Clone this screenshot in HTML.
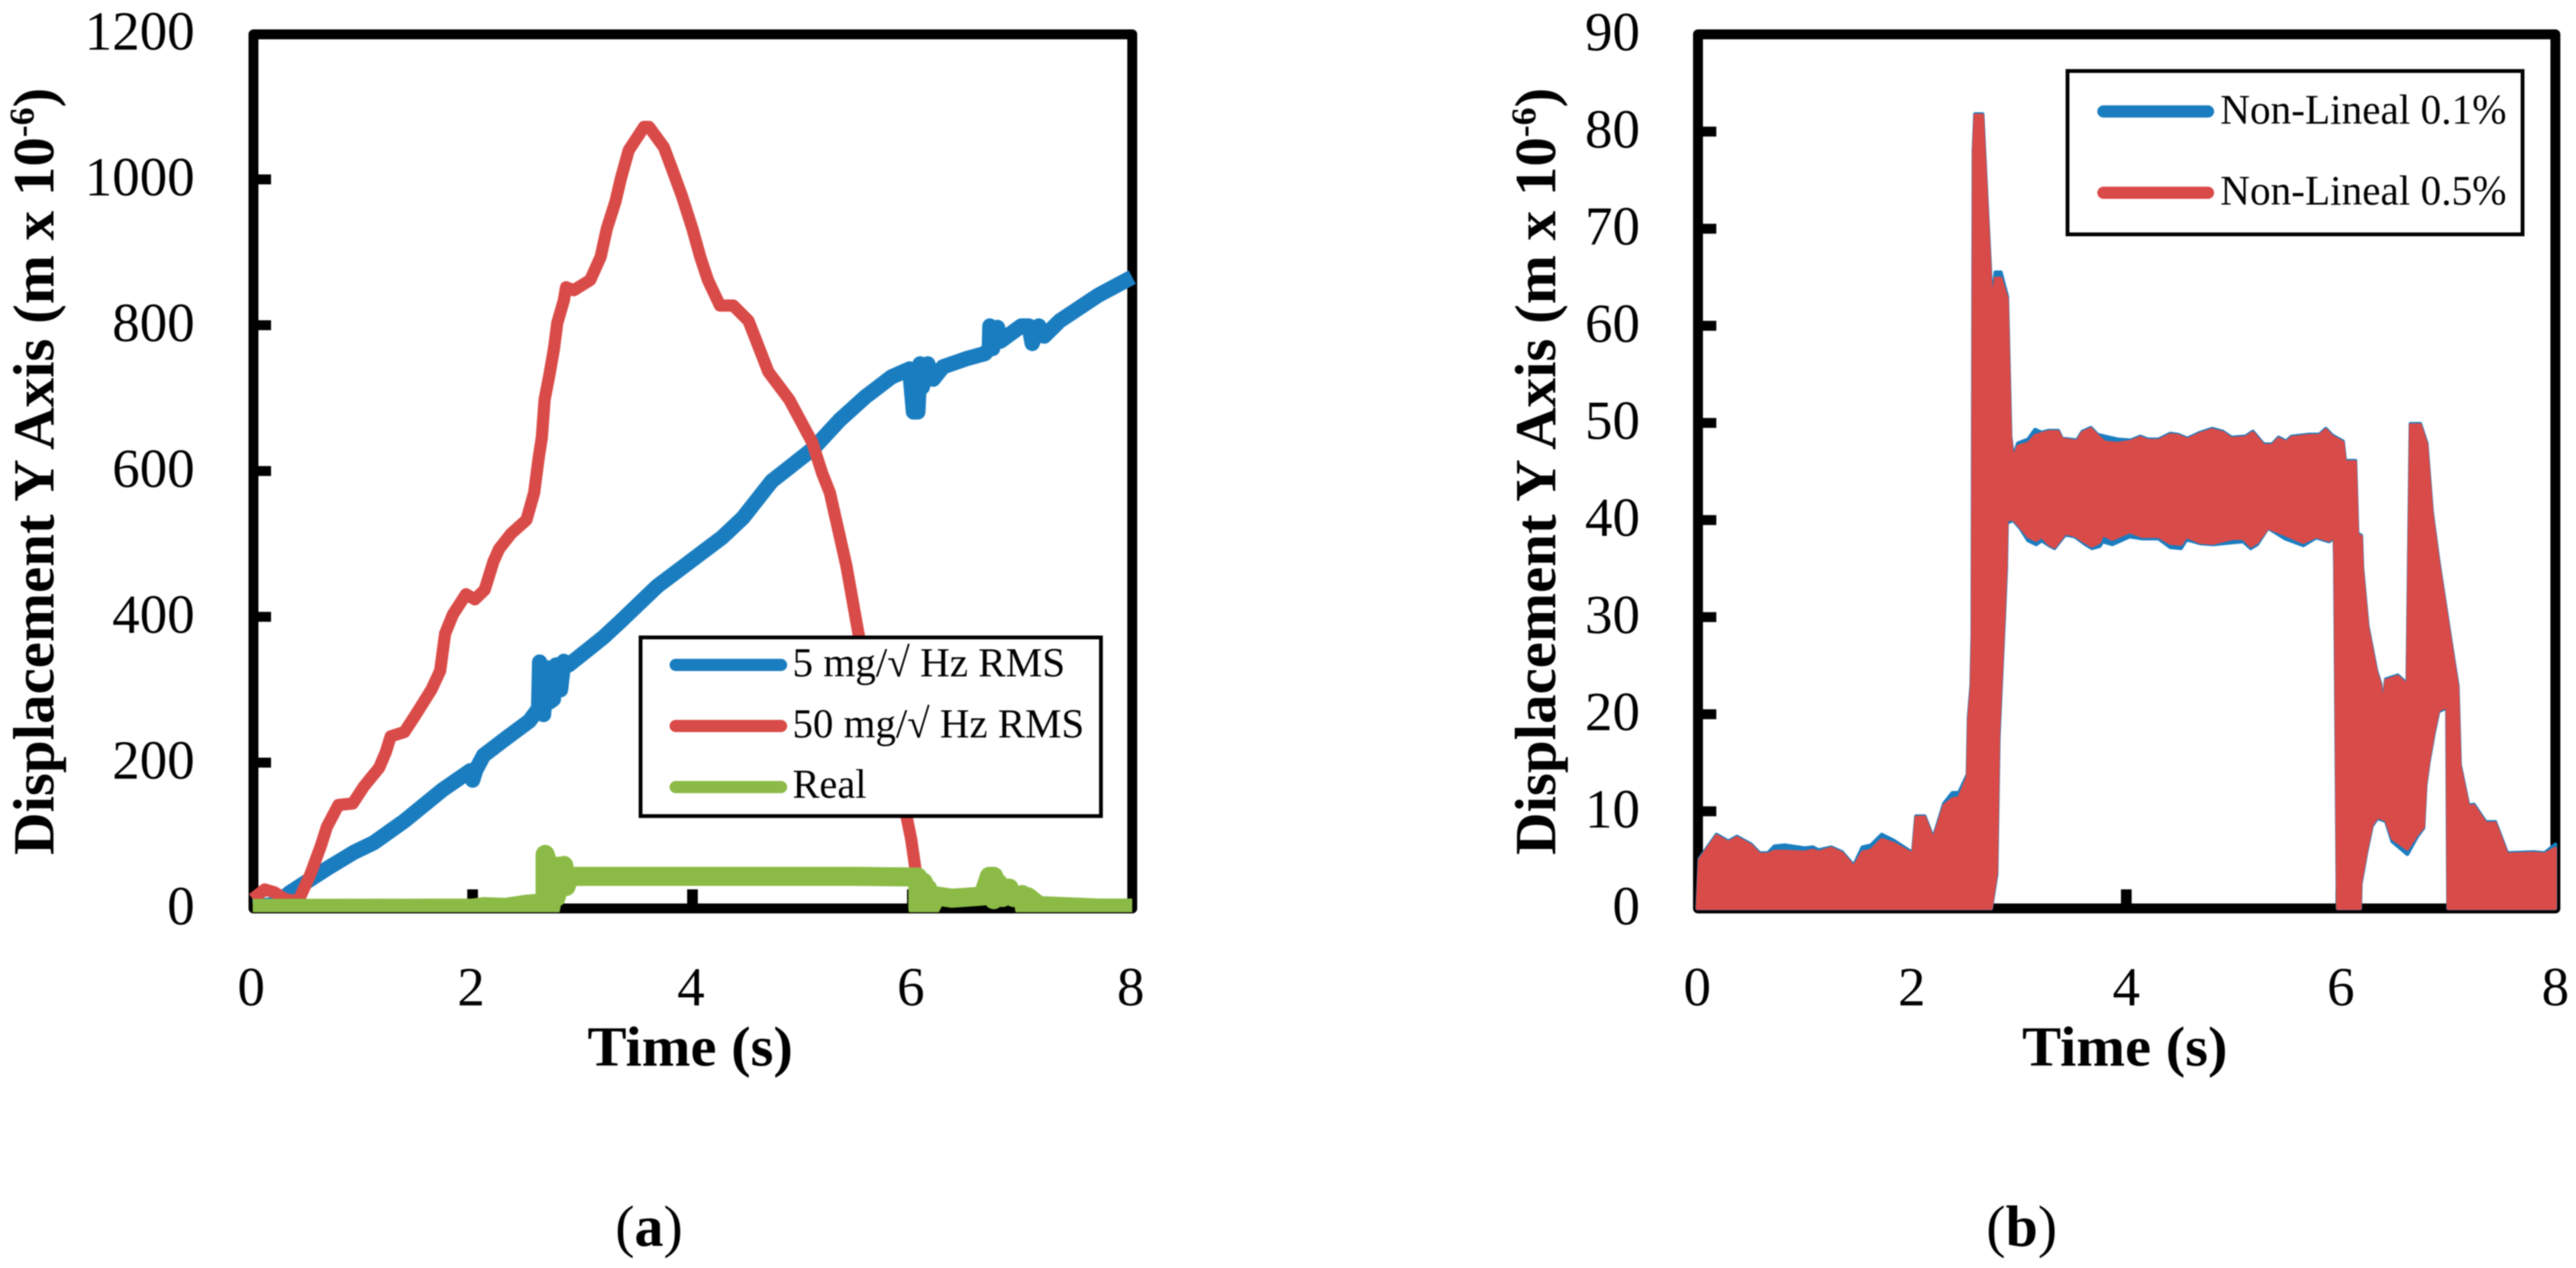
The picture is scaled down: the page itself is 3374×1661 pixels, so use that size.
<!DOCTYPE html>
<html lang="en">
<head>
<meta charset="utf-8">
<title>Displacement Y Axis charts</title>
<style>
html,body{margin:0;padding:0;background:#fff;}
svg{display:block;filter:blur(0.7px);}
text{font-family:"Liberation Serif",serif;fill:#000;}
</style>
</head>
<body>
<svg id="figure" xmlns="http://www.w3.org/2000/svg" width="3374" height="1661" viewBox="0 0 3374 1661">
  <defs>
    <clipPath id="clip-a"><rect x="326" y="38" width="1163" height="1157"/></clipPath>
    <clipPath id="clip-b"><rect x="2217" y="38" width="1136" height="1157"/></clipPath>
  </defs>
  <rect width="3374" height="1661" fill="#fff"/>

  <g id="panel-a">
    <rect x="332" y="45" width="1151" height="1145" fill="none" stroke="#000" stroke-width="13" stroke-linejoin="round"/>
    <g id="ticks-a"></g>
    <g id="series-a" clip-path="url(#clip-a)"></g>
    <text transform="translate(70,617.5) rotate(-90)" text-anchor="middle" font-size="76" font-weight="700" textLength="1005" lengthAdjust="spacingAndGlyphs">Displacement Y Axis (m x 10<tspan dy="-26" font-size="46">-6</tspan><tspan dy="26">)</tspan></text>
    <text x="904" y="1396" text-anchor="middle" font-size="74" font-weight="700" textLength="269" lengthAdjust="spacingAndGlyphs">Time (s)</text>
    <g>
      <rect x="839" y="835" width="603" height="234" fill="#fff" stroke="#000" stroke-width="5"/>
      <line x1="885" y1="871" x2="1023" y2="871" stroke="#1a7dc0" stroke-width="16" stroke-linecap="round"/>
      <text x="1038" y="886" font-size="54" textLength="357" lengthAdjust="spacingAndGlyphs">5 mg/√ Hz RMS</text>
      <line x1="885" y1="951" x2="1023" y2="951" stroke="#d94b48" stroke-width="16" stroke-linecap="round"/>
      <text x="1038" y="966" font-size="54" textLength="382" lengthAdjust="spacingAndGlyphs">50 mg/√ Hz RMS</text>
      <line x1="885" y1="1031" x2="1023" y2="1031" stroke="#8bbb46" stroke-width="16" stroke-linecap="round"/>
      <text x="1038" y="1045" font-size="54" textLength="97" lengthAdjust="spacingAndGlyphs">Real</text>
    </g>
    <text x="850" y="1632" text-anchor="middle" font-size="76">(<tspan font-weight="700">a</tspan>)</text>
  </g>

  <g id="panel-b">
    <rect x="2224" y="45" width="1123" height="1145" fill="none" stroke="#000" stroke-width="13" stroke-linejoin="round"/>
    <g id="ticks-b"></g>
    <g id="series-b" clip-path="url(#clip-b)"></g>
    <text transform="translate(2037,617.5) rotate(-90)" text-anchor="middle" font-size="76" font-weight="700" textLength="1005" lengthAdjust="spacingAndGlyphs">Displacement Y Axis (m x 10<tspan dy="-26" font-size="46">-6</tspan><tspan dy="26">)</tspan></text>
    <text x="2783" y="1396" text-anchor="middle" font-size="74" font-weight="700" textLength="269" lengthAdjust="spacingAndGlyphs">Time (s)</text>
    <g>
      <rect x="2708" y="93" width="596" height="214" fill="#fff" stroke="#000" stroke-width="5"/>
      <line x1="2755" y1="146" x2="2892" y2="146" stroke="#1a7dc0" stroke-width="16" stroke-linecap="round"/>
      <text x="2908" y="162" font-size="55" textLength="375" lengthAdjust="spacingAndGlyphs">Non-Lineal 0.1%</text>
      <line x1="2755" y1="252.500" x2="2892" y2="252.500" stroke="#d94b48" stroke-width="16" stroke-linecap="round"/>
      <text x="2908" y="268" font-size="55" textLength="375" lengthAdjust="spacingAndGlyphs">Non-Lineal 0.5%</text>
    </g>
    <text x="2648" y="1632" text-anchor="middle" font-size="76">(<tspan font-weight="700">b</tspan>)</text>
  </g>
</svg>
<script>
// ---- tick labels ----
const xTickValues = [0, 2, 4, 6, 8];
const aYTickValues = [0, 200, 400, 600, 800, 1000, 1200];
const bYTickValues = [0, 10, 20, 30, 40, 50, 60, 70, 80, 90];

// ---- panel (a) series ----
const blueTime = [0, 0.2, 0.34, 0.69, 0.92, 1.1, 1.38, 1.73, 1.98, 2.0, 2.03, 2.1, 2.31, 2.515, 2.6, 2.61, 2.645, 2.68, 2.7, 2.735, 2.76, 2.8, 2.83, 2.875, 3.19, 3.34, 3.68, 4.27, 4.46, 4.72, 5.1, 5.34, 5.575, 5.81, 5.975, 6.01, 6.05, 6.07, 6.09, 6.14, 6.19, 6.28, 6.49, 6.66, 6.7, 6.705, 6.73, 6.775, 6.8, 6.99, 7.06, 7.09, 7.15, 7.2, 7.34, 7.69, 8];
const blueValues = [3, 5, 22, 56, 77, 90, 120, 163, 189, 176, 190, 210, 234, 257, 274, 338, 266, 330, 283, 287, 334, 300, 339, 334, 372, 393, 442, 509, 536, 586, 631, 670, 702, 729, 740, 681, 681, 747, 715, 747, 726, 743, 754, 761, 768, 799, 768, 797, 778, 799, 799, 775, 799, 785, 806, 841, 866];
const redTime = [0, 0.11, 0.2, 0.29, 0.35, 0.42, 0.525, 0.62, 0.675, 0.78, 0.91, 1.01, 1.15, 1.21, 1.255, 1.38, 1.475, 1.625, 1.705, 1.75, 1.82, 1.94, 2.02, 2.11, 2.19, 2.24, 2.35, 2.49, 2.56, 2.6, 2.63, 2.655, 2.7, 2.74, 2.77, 2.83, 2.85, 2.92, 3.07, 3.165, 3.22, 3.3, 3.35, 3.42, 3.56, 3.605, 3.74, 3.81, 3.905, 4.0, 4.07, 4.14, 4.25, 4.37, 4.51, 4.6, 4.69, 4.88, 4.99, 5.09, 5.18, 5.25, 5.4, 5.51, 5.7, 5.95, 5.99, 6.03, 6.11, 6.21];
const redValues = [13, 26, 22, 13, 11, 12, 47, 86, 112, 142, 144, 167, 193, 214, 236, 242, 264, 300, 326, 377, 403, 431, 424, 437, 476, 493, 514, 533, 570, 617, 646, 698, 733, 768, 803, 834, 852, 848, 862, 894, 932, 970, 1002, 1040, 1072, 1072, 1044, 1016, 977, 932, 894, 862, 827, 827, 806, 771, 736, 698, 667, 639, 597, 570, 470, 377, 250, 124, 94, 52, 30, 2];
const greenTime = [0, 2, 2.1, 2.3, 2.5, 2.59, 2.66, 2.66, 2.7, 2.68, 2.74, 2.71, 2.78, 2.76, 2.83, 2.85, 2.88, 3.5, 4.5, 5.5, 6.05, 6.05, 6.1, 6.1, 6.14, 6.16, 6.22, 6.27, 6.36, 6.64, 6.7, 6.74, 6.74, 6.78, 6.82, 6.88, 6.92, 7.0, 7.02, 7.05, 7.15, 7.7, 8];
const greenValues = [0, 0.5, 2.5, 1.5, 6, 7, 7, 74, 55, 0, 55, 0, 58, 15, 59, 30, 44, 44, 44, 44, 43, 0, 36, 0, 27, 0, 17, 16, 14, 17, 44, 44, 12, 35, 15, 28, 15, 19, 0, 16, 4, 0.5, 0.5];

// ---- panel (b) bands ----
const bandUpperTime = [0, 0.02, 0.18, 0.29, 0.37, 0.5, 0.58, 0.66, 0.72, 0.82, 1, 1.08, 1.13, 1.25, 1.35, 1.46, 1.54, 1.62, 1.72, 1.83, 2.01, 2.04, 2.12, 2.2, 2.3, 2.38, 2.44, 2.52, 2.53, 2.555, 2.565, 2.576, 2.59, 2.66, 2.7, 2.74, 2.755, 2.78, 2.83, 2.89, 2.92, 2.945, 2.99, 3.085, 3.15, 3.21, 3.276, 3.365, 3.4, 3.54, 3.59, 3.67, 3.73, 3.8, 3.92, 4.04, 4.13, 4.2, 4.3, 4.41, 4.48, 4.57, 4.69, 4.8, 4.9, 4.98, 5.11, 5.18, 5.28, 5.36, 5.42, 5.49, 5.54, 5.7, 5.8, 5.86, 5.92, 6.02, 6.04, 6.07, 6.135, 6.155, 6.19, 6.2, 6.25, 6.33, 6.37, 6.385, 6.42, 6.53, 6.62, 6.65, 6.74, 6.8, 6.85, 6.91, 6.99, 7.05, 7.09, 7.11, 7.19, 7.24, 7.35, 7.44, 7.55, 7.8, 7.9, 8];
const upper01 = [0, 5.1, 7.6, 6.9, 7.4, 6.6, 5.7, 5.7, 6.4, 6.5, 6.2, 6.3, 6, 6.3, 5.8, 4.4, 6.3, 6.5, 7.6, 7, 5.7, 9.5, 9.5, 7.2, 10.8, 11.9, 11.9, 13.8, 19.6, 23, 28.2, 78, 81.8, 81.8, 72.8, 63.7, 63, 65.5, 65.5, 63, 48.6, 46.4, 47.9, 48.3, 49.3, 49, 49.2, 49.2, 48.4, 48.2, 49.1, 49.5, 48.8, 48.6, 48.3, 48.2, 48.6, 48.3, 48.3, 48.9, 48.8, 48.4, 49, 49.4, 49.1, 48.5, 48.6, 49.1, 47.8, 47.8, 48.5, 48.1, 48.6, 48.8, 48.8, 49.4, 48.7, 48.1, 46.1, 46.1, 46.1, 38.6, 38.4, 35.1, 29.1, 24.5, 23.1, 20.4, 23.6, 24, 23.1, 49.9, 49.9, 47.9, 40.8, 35.8, 30, 25.7, 22.9, 14.8, 10.6, 10.7, 8.9, 8.9, 5.7, 5.8, 5.7, 6.6];
const upper05 = [0, 5, 7.5, 6.8, 7.3, 6.5, 5.6, 5.6, 5.9, 5.9, 5.8, 6, 5.8, 6.2, 5.7, 4.3, 5.8, 6, 7.1, 6.7, 5.6, 9.4, 9.4, 7.1, 10.6, 11.3, 11.4, 13.6, 19.4, 22.8, 28, 78, 81.7, 81.7, 72.7, 63.5, 62.8, 64.9, 64.9, 62.8, 48.5, 46.25, 47.6, 47.9, 48.7, 48.9, 49.1, 49.1, 48.35, 48.1, 49, 49.4, 48.7, 48, 47.9, 48.1, 48.5, 48.2, 48.2, 48.8, 48.7, 48.3, 48.9, 49.3, 49, 48.4, 48.5, 49, 47.7, 47.7, 48.4, 48, 48.5, 48.7, 48.7, 49.3, 48.6, 48, 46, 46, 46, 38.5, 38.3, 35, 29, 24.4, 23, 20.3, 23.5, 23.9, 23, 49.8, 49.8, 47.8, 40.7, 35.7, 29.9, 25.6, 22.8, 14.7, 10.5, 10.6, 8.8, 8.8, 5.6, 5.7, 5.6, 6.2];
const bandLowerTime = [0, 2.74, 2.79, 2.81, 2.83, 2.86, 2.88, 2.887, 2.945, 3.01, 3.085, 3.16, 3.21, 3.28, 3.33, 3.38, 3.43, 3.52, 3.62, 3.68, 3.75, 3.78, 3.87, 4.03, 4.15, 4.3, 4.41, 4.51, 4.56, 4.69, 4.81, 4.99, 5.09, 5.16, 5.22, 5.32, 5.48, 5.65, 5.77, 5.89, 5.94, 5.945, 5.97, 6.18, 6.185, 6.24, 6.29, 6.34, 6.42, 6.48, 6.62, 6.71, 6.77, 6.79, 6.82, 6.87, 6.91, 6.99, 7.0, 8];
const lower01 = [0, 0, 3.5, 17.5, 22.5, 29.7, 35, 39.7, 40, 39.2, 37.9, 37.5, 37.9, 37.4, 37.1, 37.8, 38.5, 38.3, 37.5, 37.1, 37.3, 37.8, 37.5, 38.3, 38.1, 38.1, 37.2, 37.1, 38, 37.6, 37.5, 37.7, 37.8, 37.1, 37.5, 39.2, 38.1, 37.4, 38.2, 37.8, 38.2, 35.4, 0, 0, 2.5, 5.9, 8.5, 9.3, 9, 6.9, 5.6, 7.4, 8.3, 12.7, 15.1, 18.2, 20.3, 20.7, 0, 0];
const lower05 = [0, 0, 3.7, 17.9, 22.8, 30, 35.4, 40, 40.1, 39.3, 38.3, 37.9, 38.3, 37.5, 37.2, 37.9, 38.65, 38.4, 37.7, 37.3, 37.7, 38.5, 38, 38.8, 38.3, 38.3, 37.6, 37.5, 38.3, 37.7, 37.6, 38.1, 38.1, 37.3, 37.7, 39.2, 38.5, 37.7, 38.3, 37.9, 38.3, 35.4, 0, 0, 2.6, 6, 8.6, 9.4, 9.1, 7.2, 6.1, 7.6, 8.4, 12.8, 15.2, 18.3, 20.4, 20.8, 0, 0];

// ---- axis functions ----
function xA(t) { return 331 + 144 * t; }
function yA(v) { return 1190 - 0.955 * v; }
function xB(t) { return 2223 + 140.5 * t; }
function yB(v) { return 1190 - 12.72 * v; }

const NS = 'http://www.w3.org/2000/svg';

function pathFrom(times, values, xf, yf) {
  return times.map(function (t, i) {
    return (i ? 'L' : 'M') + xf(t).toFixed(1) + ' ' + yf(values[i]).toFixed(1);
  }).join(' ');
}

// ---- panel (a) ticks ----
const ticksA = document.getElementById('ticks-a');
aYTickValues.forEach(function (v) {
  const lab = document.createElementNS(NS, 'text');
  
  
  lab.setAttribute('x', 255);
  lab.setAttribute('y', yA(v) + 21);
  lab.setAttribute('text-anchor', 'end');
  lab.setAttribute('font-size', 72);
  lab.textContent = String(v);
  ticksA.appendChild(lab);
  if (v > 0 && v < 1200) {
    const mark = document.createElementNS(NS, 'line');
    
    
    mark.setAttribute('x1', xA(0));
    mark.setAttribute('x2', xA(0) + 24);
    mark.setAttribute('y1', yA(v));
    mark.setAttribute('y2', yA(v));
    mark.setAttribute('stroke', '#000');
    mark.setAttribute('stroke-width', 13);
    ticksA.appendChild(mark);
  }
});
xTickValues.forEach(function (t) {
  const lab = document.createElementNS(NS, 'text');
  
  
  lab.setAttribute('x', xA(t) - 2);
  lab.setAttribute('y', 1317);
  lab.setAttribute('text-anchor', 'middle');
  lab.setAttribute('font-size', 72);
  lab.textContent = String(t);
  ticksA.appendChild(lab);
  if (t > 0 && t < 8) {
    const mark = document.createElementNS(NS, 'line');
    
    
    mark.setAttribute('x1', xA(t));
    mark.setAttribute('x2', xA(t));
    mark.setAttribute('y1', 1190);
    mark.setAttribute('y2', 1165);
    mark.setAttribute('stroke', '#000');
    mark.setAttribute('stroke-width', 14);
    ticksA.appendChild(mark);
  }
});

// ---- panel (a) series ----
const seriesA = document.getElementById('series-a');

const bluePath = document.createElementNS(NS, 'path');


bluePath.setAttribute('d', pathFrom(blueTime, blueValues, xA, yA));
bluePath.setAttribute('fill', 'none');
bluePath.setAttribute('stroke', '#1a7dc0');
bluePath.setAttribute('stroke-width', 20);
bluePath.setAttribute('stroke-linejoin', 'round');
seriesA.appendChild(bluePath);

const redPath = document.createElementNS(NS, 'path');


redPath.setAttribute('d', pathFrom(redTime, redValues, xA, yA));
redPath.setAttribute('fill', 'none');
redPath.setAttribute('stroke', '#d94b48');
redPath.setAttribute('stroke-width', 16);
redPath.setAttribute('stroke-linejoin', 'round');
seriesA.appendChild(redPath);

const greenPath = document.createElementNS(NS, 'path');


greenPath.setAttribute('d', pathFrom(greenTime, greenValues, xA, yA));
greenPath.setAttribute('fill', 'none');
greenPath.setAttribute('stroke', '#8bbb46');
greenPath.setAttribute('stroke-width', 25);
greenPath.setAttribute('stroke-linejoin', 'round');
seriesA.appendChild(greenPath);

// ---- panel (b) ticks ----
const ticksB = document.getElementById('ticks-b');
bYTickValues.forEach(function (v) {
  const lab = document.createElementNS(NS, 'text');
  
  
  lab.setAttribute('x', 2148);
  lab.setAttribute('y', yB(v) + 21);
  lab.setAttribute('text-anchor', 'end');
  lab.setAttribute('font-size', 72);
  lab.textContent = String(v);
  ticksB.appendChild(lab);
  if (v > 0 && v < 90) {
    const mark = document.createElementNS(NS, 'line');
    
    
    mark.setAttribute('x1', xB(0));
    mark.setAttribute('x2', xB(0) + 25);
    mark.setAttribute('y1', yB(v));
    mark.setAttribute('y2', yB(v));
    mark.setAttribute('stroke', '#000');
    mark.setAttribute('stroke-width', 13);
    ticksB.appendChild(mark);
  }
});
xTickValues.forEach(function (t) {
  const lab = document.createElementNS(NS, 'text');
  
  
  lab.setAttribute('x', xB(t));
  lab.setAttribute('y', 1317);
  lab.setAttribute('text-anchor', 'middle');
  lab.setAttribute('font-size', 72);
  lab.textContent = String(t);
  ticksB.appendChild(lab);
  if (t > 0 && t < 8) {
    const mark = document.createElementNS(NS, 'line');
    
    
    mark.setAttribute('x1', xB(t));
    mark.setAttribute('x2', xB(t));
    mark.setAttribute('y1', 1190);
    mark.setAttribute('y2', 1165);
    mark.setAttribute('stroke', '#000');
    mark.setAttribute('stroke-width', 14);
    ticksB.appendChild(mark);
  }
});

// ---- panel (b) bands ----
function bandPath(upT, upV, lowT, lowV) {
  let d = pathFrom(upT, upV, xB, yB);
  for (let i = lowT.length - 1; i >= 0; i--) {
    d += ' L' + xB(lowT[i]).toFixed(1) + ' ' + yB(lowV[i]).toFixed(1);
  }
  return d + ' Z';
}
const seriesB = document.getElementById('series-b');

const band01 = document.createElementNS(NS, 'path');


band01.setAttribute('d', bandPath(bandUpperTime, upper01, bandLowerTime, lower01));
band01.setAttribute('fill', '#1a7dc0');
band01.setAttribute('stroke', '#1a7dc0');
band01.setAttribute('stroke-width', 5);
band01.setAttribute('stroke-linejoin', 'round');
seriesB.appendChild(band01);

const band05 = document.createElementNS(NS, 'path');


band05.setAttribute('d', bandPath(bandUpperTime, upper05, bandLowerTime, lower05));
band05.setAttribute('fill', '#d94b48');
band05.setAttribute('stroke', '#d94b48');
band05.setAttribute('stroke-width', 4);
band05.setAttribute('stroke-linejoin', 'round');
seriesB.appendChild(band05);
</script>
</body>
</html>
